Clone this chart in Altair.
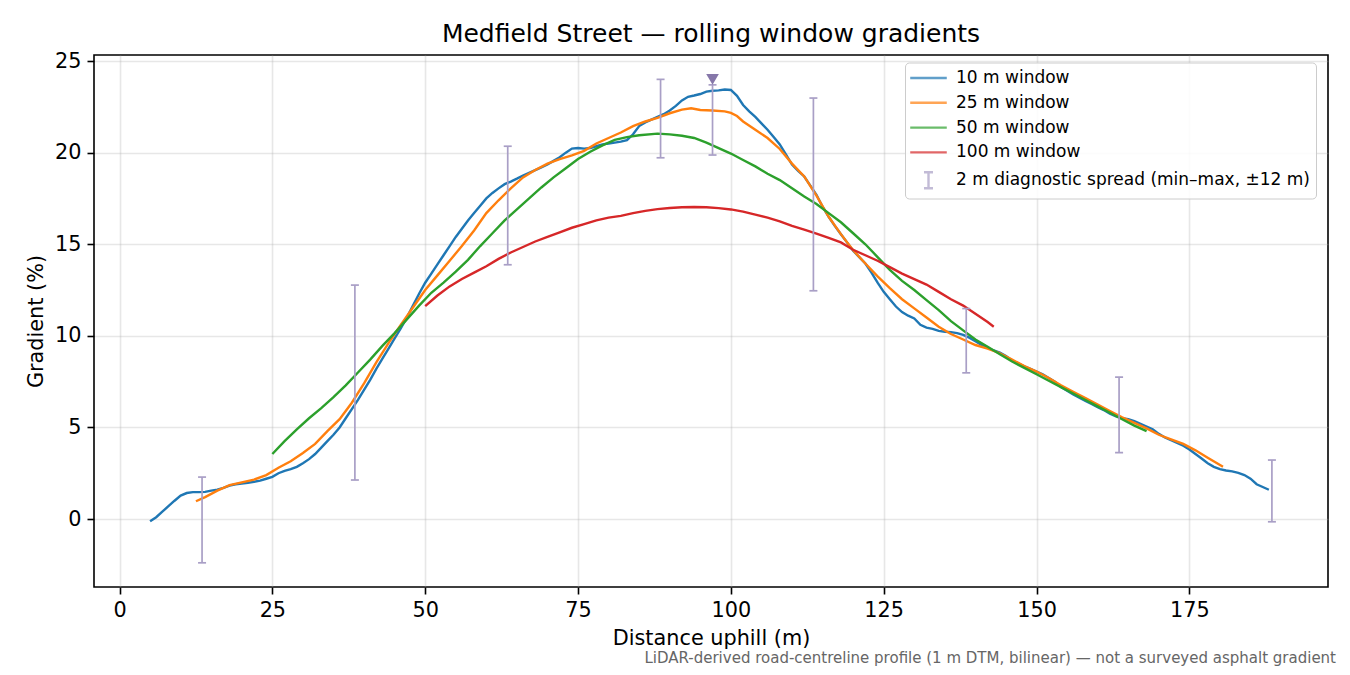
import altair as alt
import pandas as pd

# ---------------- data ----------------
SERIES = ["10 m window", "25 m window", "50 m window", "100 m window",
          "2 m diagnostic spread (min–max, ±12 m)"]
COLORS = ["#1f77b4", "#ff7f0e", "#2ca02c", "#d62728", "#a99fc6"]

x10 = list(range(5, 189))
g10 = [-0.12, 0.1, 0.4, 0.7, 1.0, 1.28, 1.42, 1.47, 1.47, 1.48, 1.55, 1.6, 1.7, 1.82, 1.9,
       1.94, 1.98, 2.03, 2.1, 2.2, 2.3, 2.5, 2.63, 2.72, 2.85, 3.05, 3.27, 3.55, 3.9, 4.25,
       4.6, 5.0, 5.5, 6.0, 6.5, 7.05, 7.6, 8.2, 8.75, 9.3, 9.86, 10.4, 11.0, 11.65, 12.3,
       12.9, 13.4, 13.9, 14.4, 14.9, 15.4, 15.85, 16.3, 16.7, 17.1, 17.5, 17.8, 18.05, 18.28,
       18.42, 18.58, 18.75, 18.9, 19.05, 19.2, 19.35, 19.55, 19.75, 20.0, 20.22, 20.25, 20.22,
       20.25, 20.35, 20.45, 20.5, 20.55, 20.6, 20.68, 21.0, 21.45, 21.65, 21.8, 21.95, 22.1,
       22.3, 22.55, 22.85, 23.05, 23.12, 23.2, 23.33, 23.38, 23.4, 23.45, 23.42, 23.1, 22.6,
       22.25, 21.95, 21.6, 21.25, 20.85, 20.45, 19.9, 19.35, 19.0, 18.7, 18.2, 17.7, 17.05,
       16.5, 16.0, 15.55, 15.1, 14.65, 14.3, 13.95, 13.45, 12.9, 12.4, 12.0, 11.6, 11.3,
       11.1, 10.95, 10.6, 10.45, 10.38, 10.27, 10.22, 10.2, 10.15, 10.05, 9.9, 9.7, 9.5,
       9.35, 9.2, 9.08, 8.9, 8.65, 8.5, 8.33, 8.2, 8.05, 7.9, 7.7, 7.5, 7.2, 7.0, 6.8, 6.63,
       6.45, 6.28, 6.1, 5.95, 5.75, 5.6, 5.5, 5.45, 5.35, 5.2, 5.05, 4.9, 4.65, 4.45, 4.3,
       4.15, 4.0, 3.8, 3.55, 3.3, 3.05, 2.85, 2.72, 2.65, 2.6, 2.52, 2.4, 2.2, 1.9, 1.75, 1.6]

x25 = [12.5, 14, 16, 18, 20, 22, 24, 26, 28, 30, 32, 34, 36, 38, 40, 42, 44, 46, 48, 50,
       52, 54, 56, 58, 60, 62, 64, 66, 68, 70, 72, 74, 76, 78, 80, 82, 84, 86, 88, 90, 92,
       93.5, 95, 97, 99, 100, 101, 102, 104, 106, 108, 110, 112, 114, 116, 118, 120, 122,
       124, 126, 128, 130, 132, 134, 136, 138, 140, 142, 144, 146, 148, 150, 152, 154, 156,
       158, 160, 162, 164, 166, 168, 170, 172, 174, 176, 178, 180.5]
g25 = [0.97, 1.2, 1.55, 1.85, 2.0, 2.15, 2.4, 2.8, 3.15, 3.6, 4.1, 4.8, 5.45, 6.35, 7.4,
       8.55, 9.6, 10.6, 11.55, 12.5, 13.3, 14.1, 14.9, 15.75, 16.7, 17.4, 18.05, 18.65,
       19.05, 19.4, 19.65, 19.85, 20.1, 20.5, 20.8, 21.1, 21.45, 21.7, 21.9, 22.15, 22.35,
       22.42, 22.33, 22.3, 22.25, 22.17, 22.0, 21.7, 21.25, 20.8, 20.2, 19.4, 18.7, 17.65,
       16.5, 15.55, 14.67, 13.95, 13.25, 12.6, 12.0, 11.5, 11.0, 10.5, 10.1, 9.8, 9.5, 9.3,
       9.05, 8.7, 8.35, 8.05, 7.7, 7.3, 6.95, 6.6, 6.25, 5.9, 5.55, 5.25, 4.95, 4.6, 4.35,
       4.1, 3.75, 3.35, 2.85]

x50 = [25, 27, 29, 31, 33, 35, 37, 39, 41, 43, 45, 47, 49, 51, 53, 55, 57, 59, 61, 63, 65,
       67, 69, 71, 73, 75, 77, 79, 81, 83, 85, 88, 90, 92, 94, 96, 98, 100, 102, 104, 106,
       108, 110, 112, 114, 116, 118, 120, 122, 124, 126, 128, 130, 132, 134, 136, 138, 140,
       142, 144, 146, 148, 150, 152, 154, 156, 158, 160, 162, 164, 166, 168]
g50 = [3.55, 4.25, 4.9, 5.5, 6.05, 6.65, 7.3, 8.0, 8.7, 9.45, 10.15, 10.9, 11.65, 12.35,
       12.9, 13.5, 14.15, 14.9, 15.6, 16.3, 16.9, 17.5, 18.1, 18.65, 19.15, 19.65, 20.05,
       20.4, 20.7, 20.85, 20.95, 21.04, 21.0, 20.92, 20.8, 20.55, 20.25, 19.95, 19.6, 19.25,
       18.85, 18.5, 18.05, 17.6, 17.2, 16.7, 16.2, 15.6, 15.0, 14.3, 13.6, 13.0, 12.5, 11.95,
       11.4, 10.8, 10.3, 9.8, 9.4, 9.0, 8.6, 8.25, 7.9, 7.55, 7.2, 6.85, 6.5, 6.15, 5.8,
       5.45, 5.1, 4.8]

x100 = [50, 52, 54, 56, 58, 60, 62, 64, 66, 68, 70, 72, 74, 76, 78, 80, 82, 84, 86, 88, 90,
        92, 94, 96, 98, 100, 102, 104, 106, 108, 110, 112, 114, 116, 118, 120, 122, 124,
        126, 128, 130, 132, 134, 136, 138, 140, 142, 143]
g100 = [11.62, 12.2, 12.7, 13.1, 13.45, 13.8, 14.2, 14.55, 14.85, 15.15, 15.4, 15.65, 15.9,
        16.1, 16.3, 16.45, 16.55, 16.7, 16.82, 16.92, 16.98, 17.02, 17.03, 17.02, 16.97,
        16.9, 16.78, 16.62, 16.45, 16.25, 16.0, 15.8, 15.58, 15.35, 15.1, 14.7, 14.4, 14.1,
        13.75, 13.4, 13.1, 12.8, 12.4, 12.0, 11.65, 11.2, 10.75, 10.5]

# 2 m diagnostic spread (min-max) error bars
err_x = [13.5, 38.5, 63.5, 88.5, 97, 113.5, 138.5, 163.5, 188.5]
err_lo = [-2.39, 2.13, 13.88, 19.72, 19.87, 12.46, 7.98, 3.62, -0.15]
err_hi = [2.29, 12.77, 20.35, 24.0, 23.7, 22.98, 11.49, 7.75, 3.22]

peak_x = [97]
peak_y = [24.0]

TITLE = "Medfield Street — rolling window gradients"
X_TITLE = "Distance uphill (m)"
Y_TITLE = "Gradient (%)"
FOOTNOTE = ["LiDAR-derived road-centreline profile (1 m DTM, bilinear) — not a surveyed asphalt gradient"]
X_TICKS = [0, 25, 50, 75, 100, 125, 150, 175]
Y_TICKS = [0, 5, 10, 15, 20, 25]

# ---------------- tables ----------------
rows = []
for name, xs, ys in [(SERIES[0], x10, g10), (SERIES[1], x25, g25),
                     (SERIES[2], x50, g50), (SERIES[3], x100, g100)]:
    for xv, yv in zip(xs, ys):
        rows.append({"series": name, "x": xv, "y": yv})
lines_df = pd.DataFrame(rows)
err_df = pd.DataFrame({"x": err_x, "lo": err_lo, "hi": err_hi})
peak_df = pd.DataFrame({"x": peak_x, "y": peak_y})
legend_df = pd.DataFrame({"series": SERIES, "x": [None] * 5, "y": [None] * 5})
foot_df = pd.DataFrame({"t": FOOTNOTE})

FONT = "DejaVu Sans"
ERR_COLOR = "#a99fc6"
xscale = alt.Scale(domain=[-4.175, 197.675], nice=False, zero=False)
yscale = alt.Scale(domain=[-3.71, 25.33], nice=False, zero=False)
cscale = alt.Scale(domain=SERIES, range=COLORS)
LINE_SYM = "M-2.15,0H2.15"
ERR_SYM = "M0,-0.94V0.94M-0.53,-0.94H0.53M-0.53,0.94H0.53"
shape_range = [LINE_SYM, LINE_SYM, LINE_SYM, LINE_SYM, ERR_SYM]
LEG = alt.Legend(title=None, orient="none", legendX=811, legendY=7.5)

xenc = alt.X("x:Q", scale=xscale,
             axis=alt.Axis(values=X_TICKS, title=X_TITLE, titlePadding=9))
yenc = alt.Y("y:Q", scale=yscale, axis=alt.Axis(values=Y_TICKS, title=Y_TITLE))

lines = alt.Chart(lines_df).mark_line(strokeWidth=2.4).encode(
    x=xenc, y=yenc,
    color=alt.Color("series:N", scale=cscale, legend=LEG),
    detail="series:N",
)

legend_layer = alt.Chart(legend_df).mark_point(filled=False, strokeWidth=2.4).encode(
    x=alt.X("x:Q", scale=xscale),
    y=alt.Y("y:Q", scale=yscale),
    color=alt.Color("series:N", scale=cscale, legend=LEG),
    shape=alt.Shape("series:N", scale=alt.Scale(domain=SERIES, range=shape_range),
                    legend=LEG),
)

bars = alt.Chart(err_df).mark_rule(color=ERR_COLOR, strokeWidth=1.7).encode(
    x=alt.X("x:Q", scale=xscale), y=alt.Y("lo:Q", scale=yscale), y2="hi:Q")
caps_lo = alt.Chart(err_df).mark_tick(color=ERR_COLOR, orient="horizontal",
                                      size=8, thickness=1.7, opacity=1).encode(
    x=alt.X("x:Q", scale=xscale), y=alt.Y("lo:Q", scale=yscale))
caps_hi = alt.Chart(err_df).mark_tick(color=ERR_COLOR, orient="horizontal",
                                      size=8, thickness=1.7, opacity=1).encode(
    x=alt.X("x:Q", scale=xscale), y=alt.Y("hi:Q", scale=yscale))

peak = alt.Chart(peak_df).mark_point(shape="triangle-down", filled=True, size=160,
                                     color="#8677a9", opacity=1).encode(
    x=alt.X("x:Q", scale=xscale), y=alt.Y("y:Q", scale=yscale))

foot = alt.Chart(foot_df).mark_text(align="right", baseline="alphabetic", font=FONT,
                                    fontSize=15, color="#666666").encode(
    x=alt.value(1242), y=alt.value(607.5), text="t:N")

chart = alt.layer(lines, bars, caps_lo, caps_hi, peak, legend_layer, foot).properties(
    width=1234, height=532,
    title=alt.TitleParams(TITLE, fontSize=25, font=FONT, fontWeight="normal",
                          anchor="middle", offset=3, color="black"),
    autosize=alt.AutoSizeParams(type="none"),
    padding={"left": 86, "top": 47, "right": 12, "bottom": 80},
).configure_view(
    stroke="black", strokeWidth=1.6
).configure_axis(
    domain=False, grid=True, gridColor="#b0b0b0", gridOpacity=0.3, gridWidth=1.6,
    tickColor="black", tickWidth=1.6, tickSize=7,
    labelFont=FONT, labelFontSize=20.8, labelColor="black", labelPadding=6,
    titleFont=FONT, titleFontSize=20.8, titleColor="black", titleFontWeight="normal",
    titlePadding=8,
).configure_legend(
    labelFont=FONT, labelFontSize=17, labelColor="black", labelLimit=0,
    symbolSize=289, symbolStrokeWidth=2.4, rowPadding=6.8,
    fillColor="rgba(255,255,255,0.85)", strokeColor="#cccccc", cornerRadius=4,
    padding=5.5, symbolOffset=8, labelOffset=17.5, symbolType="stroke",
)

chart.save("out.html", embed_options={"renderer": "svg", "actions": False})
